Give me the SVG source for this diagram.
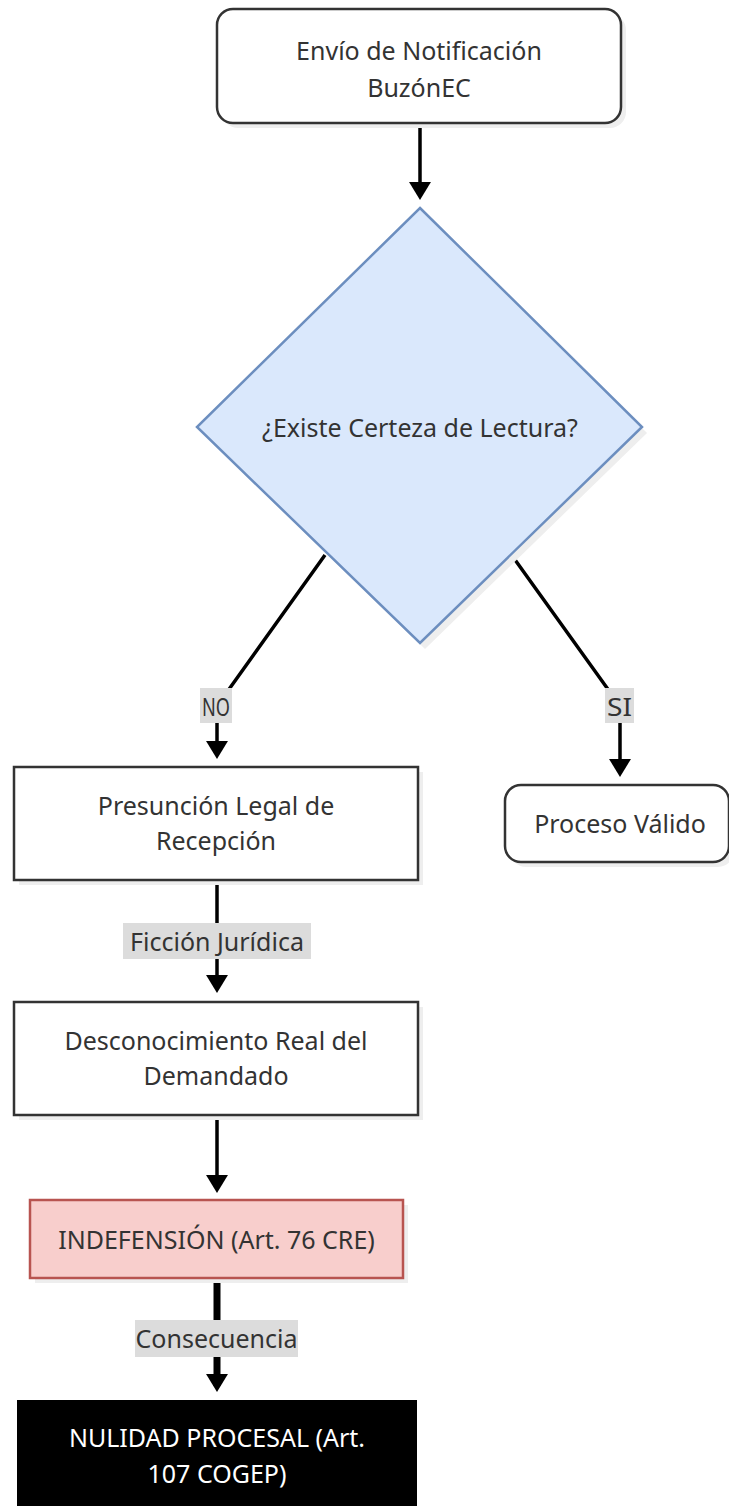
<svg xmlns="http://www.w3.org/2000/svg" width="729" height="1506" viewBox="0 0 729 1506">
<style>
  .t{font-family:"Noto Sans","Open Sans","DejaVu Sans",sans-serif;font-size:25px;fill:#333;text-anchor:middle;dominant-baseline:central}
  .w{fill:#fff}
  .nd{fill:#fff;stroke:#333;stroke-width:2.5}
  .sh{fill:#eeeeee;stroke:none}
  .ln{fill:none;stroke:#000;stroke-width:3.5}
  .thick{stroke-width:7}
  .lb{fill:#dcdcdc}
</style>
<defs>
  <marker id="ah" viewBox="0 0 10 10" refX="6.7" refY="5" markerUnits="userSpaceOnUse" markerWidth="18" markerHeight="22" orient="auto" preserveAspectRatio="none">
    <path d="M0,0 L10,5 L0,10 z" fill="#000"/>
  </marker>
</defs>
<rect width="729" height="1506" fill="#fff"/>

<g id="connectors">
  <path class="ln" d="M420,123 L420,194" marker-end="url(#ah)"/>
  <path class="ln" d="M325,555 L217,706 L217,753" marker-end="url(#ah)"/>
  <path class="ln" d="M513,557 L620,706 L620,771" marker-end="url(#ah)"/>
  <path class="ln" d="M217,880 L217,987" marker-end="url(#ah)"/>
  <path class="ln" d="M217,1115 L217,1187" marker-end="url(#ah)"/>
  <path class="ln thick" d="M217,1278 L217,1386" marker-end="url(#ah)"/>
  <g id="label-no">
    <rect class="lb" x="200" y="688" width="32" height="35"/>
    <text class="t" x="216" y="706" textLength="28" lengthAdjust="spacingAndGlyphs">NO</text>
  </g>
  <g id="label-si">
    <rect class="lb" x="605" y="688" width="29" height="35"/>
    <text class="t" x="619.5" y="706" textLength="25" lengthAdjust="spacingAndGlyphs">SI</text>
  </g>
  <g id="label-ficcion">
    <rect class="lb" x="123" y="923" width="188" height="36"/>
    <text class="t" x="217" y="941">Ficción Jurídica</text>
  </g>
  <g id="label-consecuencia">
    <rect class="lb" x="135" y="1320" width="163" height="37"/>
    <text class="t" x="216.5" y="1338">Consecuencia</text>
  </g>
</g>

<g id="node-envio">
  <rect class="sh" x="222" y="14" width="404" height="114" rx="16"/>
  <rect class="nd" x="217" y="9" width="404" height="114" rx="16"/>
  <text class="t" x="419" y="50">Envío de Notificación</text>
  <text class="t" x="419" y="87">BuzónEC</text>
</g>

<g id="node-certeza">
  <polygon class="sh" points="425,214 647,433 425,649 202,433"/>
  <polygon points="420,208 642,427 420,643 197,427" fill="#dae8fc" stroke="#6c8ebf" stroke-width="2.5"/>
  <text class="t" x="420" y="427">¿Existe Certeza de Lectura?</text>
</g>

<g id="node-presuncion">
  <rect class="sh" x="19" y="772" width="404" height="113"/>
  <rect class="nd" x="14" y="767" width="404" height="113"/>
  <text class="t" x="216" y="805">Presunción Legal de</text>
  <text class="t" x="216" y="840">Recepción</text>
</g>

<g id="node-valido">
  <rect class="sh" x="510" y="790" width="224" height="77" rx="16"/>
  <rect class="nd" x="505" y="785" width="224" height="77" rx="16"/>
  <text class="t" x="620" y="823">Proceso Válido</text>
</g>

<g id="node-desconocimiento">
  <rect class="sh" x="19" y="1007" width="404" height="113"/>
  <rect class="nd" x="14" y="1002" width="404" height="113"/>
  <text class="t" x="216" y="1040">Desconocimiento Real del</text>
  <text class="t" x="216" y="1075">Demandado</text>
</g>

<g id="node-indefension">
  <rect class="sh" x="35" y="1205" width="373" height="78"/>
  <rect x="30" y="1200" width="373" height="78" fill="#f8cecc" stroke="#b85450" stroke-width="2.5"/>
  <text class="t" x="216.5" y="1239">INDEFENSIÓN (Art. 76 CRE)</text>
</g>

<g id="node-nulidad">
  <rect x="17" y="1400" width="400" height="110" fill="#000"/>
  <text class="t w" x="217" y="1437">NULIDAD PROCESAL (Art.</text>
  <text class="t w" x="217" y="1473">107 COGEP)</text>
</g>
</svg>
